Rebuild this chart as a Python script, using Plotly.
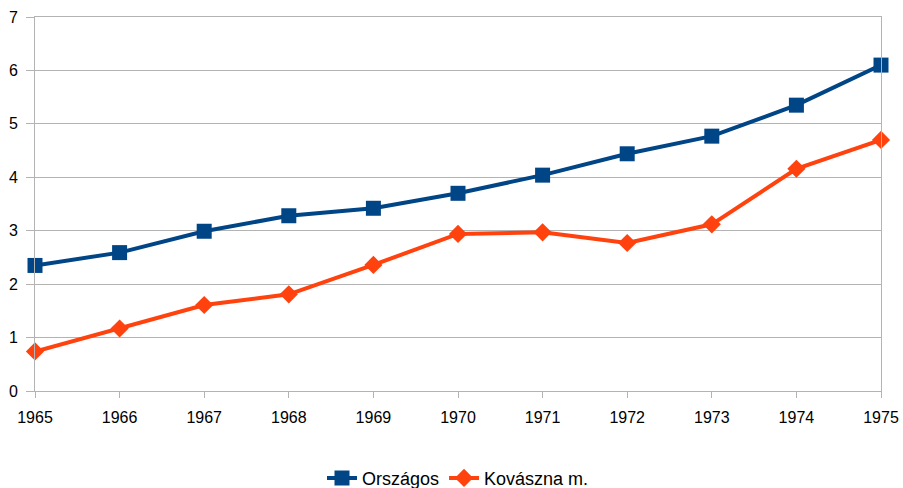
import plotly.graph_objects as go

years = [1965, 1966, 1967, 1968, 1969, 1970, 1971, 1972, 1973, 1974, 1975]
orszagos = [2.35, 2.59, 2.99, 3.28, 3.42, 3.70, 4.04, 4.44, 4.77, 5.35, 6.10]
kovaszna = [0.74, 1.17, 1.61, 1.81, 2.36, 2.94, 2.97, 2.77, 3.12, 4.16, 4.70]

fig = go.Figure()
fig.add_trace(go.Scatter(x=years, y=orszagos, name="Országos", mode="lines+markers",
                         line=dict(color="#004586", width=4),
                         marker=dict(symbol="square", size=15, color="#004586"),
                         cliponaxis=False))
fig.add_trace(go.Scatter(x=years, y=kovaszna, name="Kovászna m.", mode="lines+markers",
                         line=dict(color="#ff420e", width=4),
                         marker=dict(symbol="diamond", size=14, color="#ff420e"),
                         cliponaxis=False))

fig.update_layout(
    width=903, height=488,
    margin=dict(l=35, r=22, t=17, b=97, autoexpand=False),
    paper_bgcolor="white", plot_bgcolor="white",
    font=dict(family="Liberation Sans, Arial, sans-serif", size=16, color="black"),
    showlegend=True,
    legend=dict(orientation="h", x=0.5, xanchor="center", yref="container",
                y=0.02, yanchor="middle", font=dict(size=18)),
    xaxis=dict(range=[1965, 1975], tickmode="array", tickvals=years,
               showgrid=False,
               showline=True, linecolor="#b3b3b3", mirror=True,
               ticks="outside", ticklen=6, tickcolor="#b3b3b3", zeroline=False,
               tickfont=dict(size=16), ticklabelstandoff=6, automargin=False),
    yaxis=dict(range=[0, 7], dtick=1,
               showgrid=True, gridcolor="#b3b3b3", gridwidth=1,
               showline=True, linecolor="#b3b3b3", mirror=True,
               ticks="outside", ticklen=8, tickcolor="#b3b3b3", zeroline=False,
               tickfont=dict(size=16), ticklabelstandoff=5, automargin=False),
)
fig.write_html("out.html", config={"displayModeBar": False},
               post_script="document.body.style.margin='0';document.body.style.overflow='hidden';")
